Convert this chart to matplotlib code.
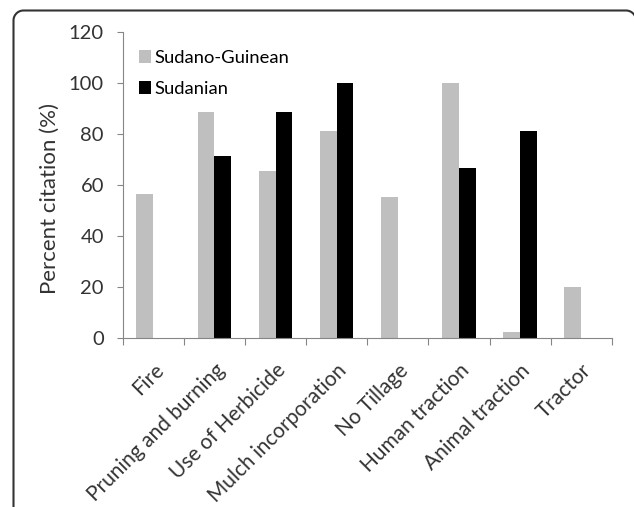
import numpy as np
import matplotlib.pyplot as plt
from matplotlib.lines import Line2D

# Data
practices = ["Fire", "Pruning and burning", "Use of Herbicide", "Mulch incorporation",
             "No Tillage", "Human traction", "Animal traction", "Tractor"]
sudano_guinean = [56.7, 88.9, 65.6, 81.1, 55.4, 100, 2.2, 20]
sudanian = [0, 71.4, 88.9, 100, 0, 66.7, 81.1, 0]

plt.rcParams['font.family'] = ['Lato', 'DejaVu Sans']

W, H = 634, 507
fig = plt.figure(figsize=(W / 100, H / 100), dpi=100)
ax = fig.add_axes([0.1935, 0.3333, 0.7715, 0.6030])

# panel frame: left side, top side and two rounded corners (pixels from top-left)
left, top, right, r = 13.5, 10.5, 636.0, 10.0
t = np.linspace(0, np.pi / 2, 20)
px = np.concatenate([[left], left + r - r * np.cos(t), right - r + r * np.sin(t)])
py = np.concatenate([[H + 5], top + r - r * np.sin(t), top + r - r * np.cos(t)])
fig.add_artist(Line2D(px / W, 1 - py / H, transform=fig.transFigure,
                      color="#333333", linewidth=1.5, solid_capstyle="butt"))

x = np.arange(len(practices))
w = 0.275
ax.bar(x - w / 2, sudano_guinean, w, color="#bfbfbf", label="Sudano-Guinean")
ax.bar(x + w / 2, sudanian, w, color="black", label="Sudanian")

ax.set_xlim(-0.5, len(practices) - 0.5)
ax.set_ylim(0, 120)
ax.set_yticks(range(0, 121, 20))
ax.set_ylabel("Percent citation (%)", fontsize=16, color="#333333")
ax.yaxis.set_label_coords(-0.128, 0.455)

# category boundaries carry the ticks, names sit at the centres
ax.set_xticks(np.arange(-0.5, len(practices)), minor=False)
ax.set_xticklabels([])
ax.set_xticks(x, minor=True)
ax.set_xticklabels(practices, minor=True, rotation=45, ha="right",
                   rotation_mode="anchor", fontsize=15, color="#333333")
ax.tick_params(axis="x", which="minor", length=0, pad=16)
ax.tick_params(axis="x", which="major", length=5, color="#868686", direction="out")
ax.tick_params(axis="y", length=4, color="#868686", labelsize=14.5, labelcolor="#333333", pad=9.5)

for s in ["top", "right"]:
    ax.spines[s].set_visible(False)
for s in ["left", "bottom"]:
    ax.spines[s].set_color("#868686")

ax.legend(loc="upper left", bbox_to_anchor=(0.018, 0.965), frameon=False,
          fontsize=13.2, handlelength=0.66, handleheight=0.7, handletextpad=0.18,
          labelspacing=0.8, borderaxespad=0.0)

plt.savefig("out.png", dpi=100)
